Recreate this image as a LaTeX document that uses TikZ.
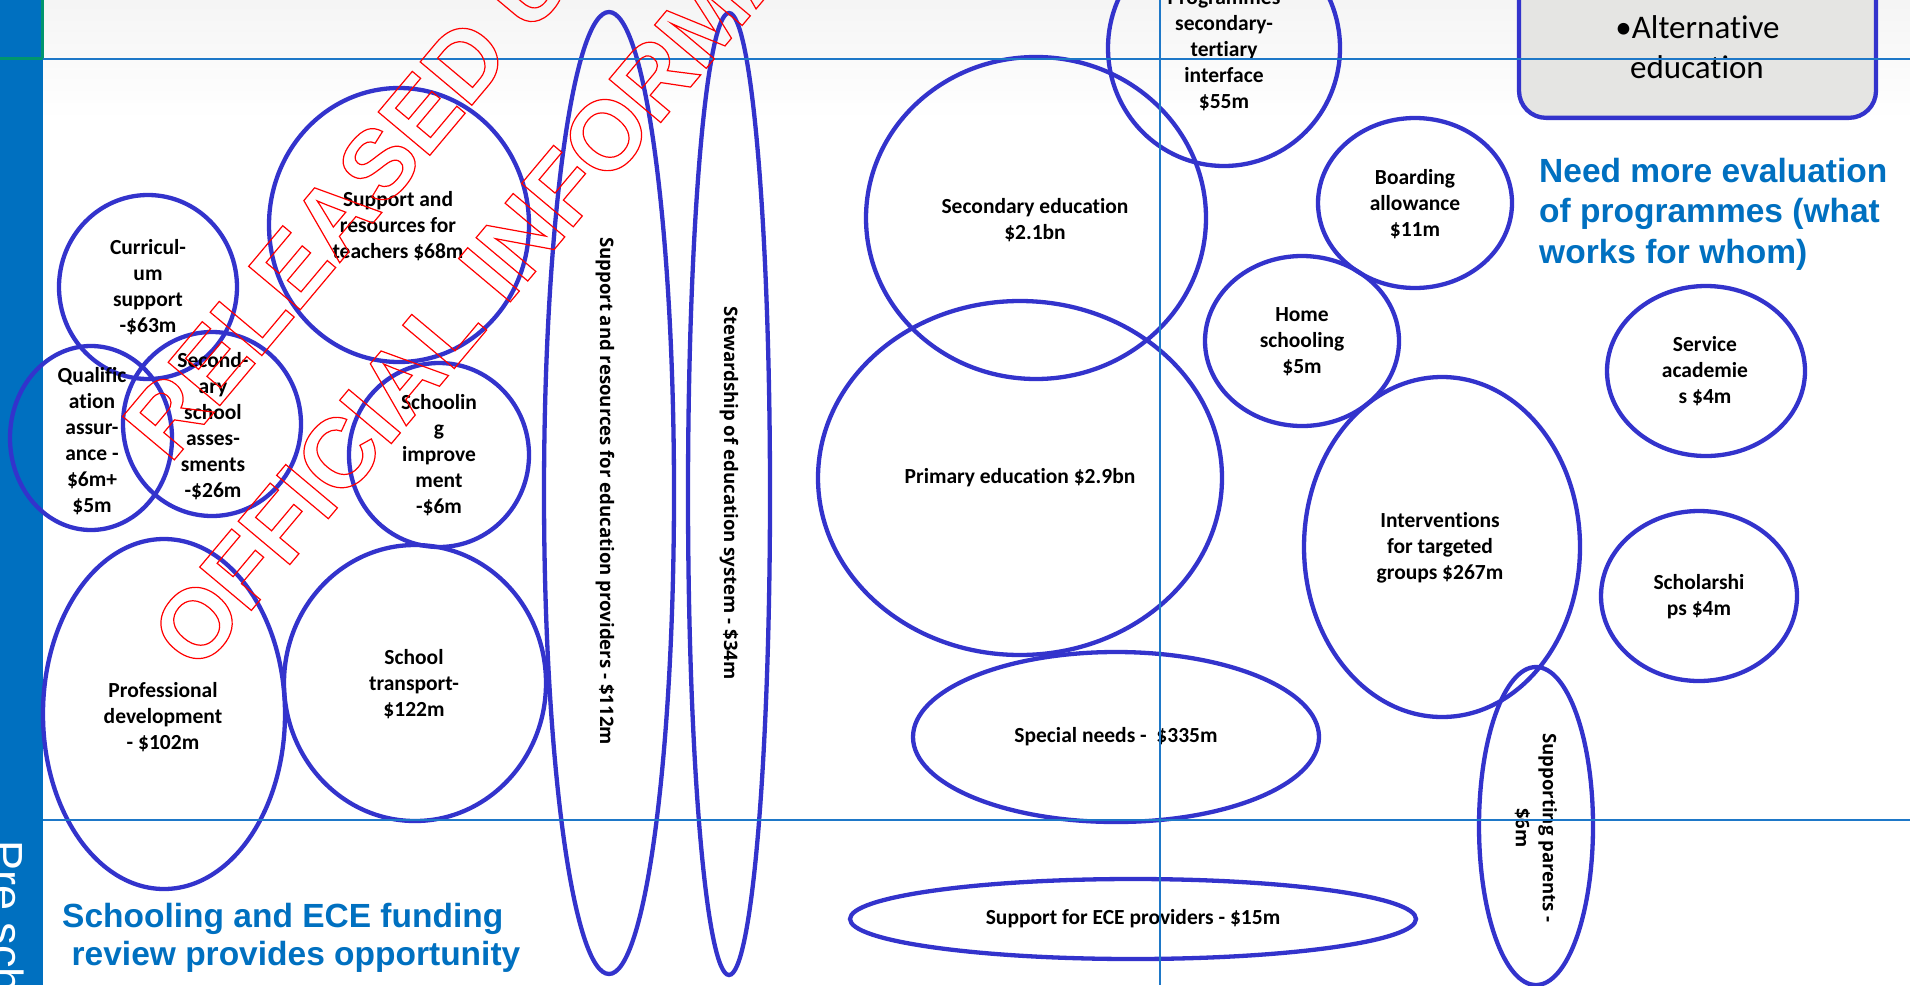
\documentclass[tikz,border=0pt]{standalone}
\usepackage{fontspec}
\setmainfont{Carlito}[Ligatures=NoCommon]
\newfontfamily\osans{Open Sans}
\newfontfamily\lsans{Liberation Sans}
\usetikzlibrary{shapes.geometric}
\definecolor{bubble}{RGB}{51,51,204}
\definecolor{slideblue}{RGB}{0,112,192}
\definecolor{gridblue}{RGB}{30,120,200}
\definecolor{boxgreen}{RGB}{0,150,110}
\definecolor{altgray}{RGB}{229,229,227}
\newcommand\outl[1]{\special{pdf:literal direct 1 Tr 1.2 w 1 0 0 RG}#1\special{pdf:literal direct 0 Tr}}
\begin{document}
\begin{tikzpicture}[x=1pt,y=-1pt,
  bub/.style={ellipse, draw=bubble, line width=4.3pt, inner sep=0pt},
  lbl/.style={font=\bfseries\fontsize{21.5}{26}\selectfont, align=center, inner sep=0pt},
  vlbl/.style={font=\osans\bfseries\fontsize{18.6}{27}\selectfont, align=center, inner sep=0pt, rotate=-90},
  bluetxt/.style={font=\lsans\bfseries\fontsize{33.5}{40}\selectfont, text=slideblue, inner sep=0pt, anchor=base west},
  wmark/.style={font=\lsans\bfseries\fontsize{98}{98}\selectfont, text=red, inner sep=0pt, anchor=base west, rotate=50},
  gline/.style={draw=gridblue, line width=2pt}]
\useasboundingbox (0,0) rectangle (1910,985);
\begin{scope}
\clip (0,0) rectangle (1910,985);
% background
\fill[white] (0,0) rectangle (1910,985);
\fill[top color=black!4, bottom color=white] (43,0) rectangle (1910,120);
% left bar
\fill[slideblue] (0,0) rectangle (43,985);
\draw[boxgreen, line width=3pt] (-5,-5) rectangle (42,58);
% alternative education box
\node[draw=bubble, line width=4.3pt, fill=altgray, rounded corners=27pt,
      minimum width=357pt, minimum height=220pt, anchor=south, inner sep=0pt] (alt) at (1697.5,120) {};
\node[font=\fontsize{33}{40}\selectfont, anchor=base, inner sep=0pt] (alt1) at (1697.5,38) {•Alternative};
\node[font=\fontsize{33}{40}\selectfont, anchor=base, inner sep=0pt] (alt2) at (1697,78) {education};
% bubbles
\node[bub, minimum width=178pt, minimum height=184pt] (curr) at (148,287) {};
\node[bub, minimum width=260pt, minimum height=274pt] (teach) at (399,225) {};
\node[bub, minimum width=162pt, minimum height=184pt] (qual) at (91,438) {};
\node[bub, minimum width=178pt, minimum height=184pt] (ssa) at (212,424) {};
\node[bub, minimum width=180pt, minimum height=184pt] (simp) at (439,455) {};
\node[bub, minimum width=242pt, minimum height=350pt] (prof) at (164,714) {};
\node[bub, minimum width=262pt, minimum height=276pt] (trans) at (415,683) {};
\node[bub, minimum width=130pt, minimum height=962pt] (srep) at (609,493) {};
\node[bub, minimum width=82pt, minimum height=962pt] (stew) at (729,494) {};
\node[bub, minimum width=340pt, minimum height=322pt] (sec) at (1036,218) {};
\node[bub, minimum width=404pt, minimum height=354pt] (prim) at (1020,478) {};
\node[bub, minimum width=232pt, minimum height=236pt] (prog) at (1224,48) {};
\node[bub, minimum width=194pt, minimum height=170pt] (board) at (1415,203) {};
\node[bub, minimum width=194pt, minimum height=170pt] (home) at (1302,341) {};
\node[bub, minimum width=276pt, minimum height=340pt] (interv) at (1442,547) {};
\node[bub, minimum width=198pt, minimum height=170pt] (serv) at (1706,371) {};
\node[bub, minimum width=196pt, minimum height=170pt] (schol) at (1699,596) {};
\node[bub, minimum width=114pt, minimum height=318pt] (spar) at (1536,826) {};
\node[bub, minimum width=406pt, minimum height=170pt] (special) at (1116,737) {};
\node[bub, minimum width=566pt, minimum height=80pt] (ece) at (1133,919) {};
% labels
\node[lbl] (currL) at (curr.center) {Curricul-\\um\\support\\-\$63m};
\node[lbl] (teachL) at (398,226) {Support and\\resources for\\teachers \$68m};
\node[lbl] (qualL) at (92,441) {Qualific\\ation\\assur-\\ance -\\\$6m+\\\$5m};
\node[lbl] (ssaL) at (213,426) {Second-\\ary\\school\\asses-\\sments\\-\$26m};
\node[lbl] (simpL) at (439,455) {Schoolin\\g\\improve\\ment\\-\$6m};
\node[lbl] (profL) at (163,717) {Professional\\development\\- \$102m};
\node[lbl] (transL) at (414,684) {School\\transport-\\\$122m};
\node[lbl] (secL) at (1035,220) {Secondary education\\\$2.1bn};
\node[lbl] (primL) at (1020,478) {Primary education \$2.9bn};
\node[lbl] (progL) at (1224,51) {Programmes\\secondary-\\tertiary\\interface\\\$55m};
\node[lbl] (boardL) at (1415,204) {Boarding\\allowance\\\$11m};
\node[lbl] (homeL) at (1302,342) {Home\\schooling\\\$5m};
\node[lbl] (intervL) at (1440,548) {Interventions\\for targeted\\groups \$267m};
\node[lbl] (servL) at (1705,371) {Service\\academie\\s \$4m};
\node[lbl] (scholL) at (1699,597) {Scholarshi\\ps \$4m};
\node[lbl] (specialL) at (1116,737) {Special needs - \ \$335m};
\node[lbl] (eceL) at (1133,919) {Support for ECE providers - \$15m};
\node[vlbl] (srepL) at (605,491) {Support and resources for education providers - \$112m};
\node[vlbl] (stewL) at (729,493) {Stewardship of education system - \$34m};
\node[vlbl] (sparL) at (1536,828) {Supporting parents -\\\$6m};
% grid lines
\draw[gline] (43,59) -- (1910,59);
\draw[gline] (43,820) -- (1910,820);
\draw[gline] (1160,0) -- (1160,985);
% blue texts
\node[bluetxt] (need1) at (1539,182) {Need more evaluation};
\node[bluetxt] (need2) at (1539,222.5) {of programmes (what};
\node[bluetxt] (need3) at (1539,263) {works for whom)};
\node[bluetxt] (rev1) at (62,927) {Schooling and ECE funding};
\node[bluetxt] (rev2) at (71.5,965) {review provides opportunity};
% rotated bar text
\node[font=\lsans\fontsize{45}{45}\selectfont, text=white, rotate=-90, anchor=base west, inner sep=0pt] (pre) at (-9,840) {Pre sch};
% watermark
\node[wmark] (wm1) at (170,465) {\outl{RELEASED UNDER THE}};
\node[wmark] (wm2) at (198,674) {\outl{OFFICIAL INFORMATION ACT}};
\end{scope}
\end{tikzpicture}
\end{document}
